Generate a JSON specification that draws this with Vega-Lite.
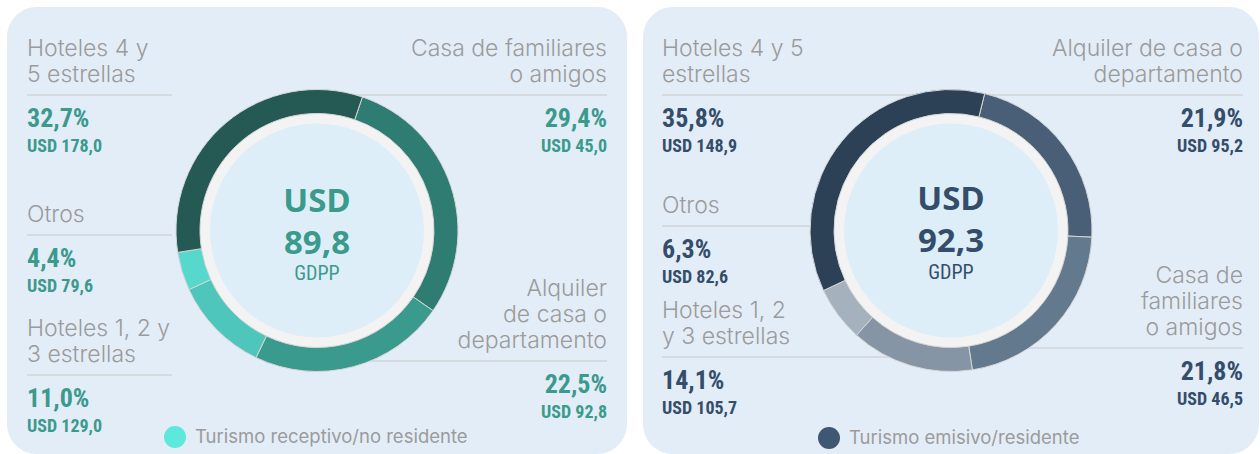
{
  "$schema": "https://vega.github.io/schema/vega-lite/v6.json",
  "background": "#ffffff",
  "padding": {"left": 7, "top": 7, "right": 0, "bottom": 0},
  "spacing": 16,
  "datasets": {
    "receptivo": [
      {"categoria": "Casa de familiares o amigos", "etiqueta": ["Casa de familiares", "o amigos"], "participacion": 0.294, "gasto": 45.0, "lado": "der", "orden": 1},
      {"categoria": "Alquiler de casa o departamento", "etiqueta": ["Alquiler", "de casa o", "departamento"], "participacion": 0.225, "gasto": 92.8, "lado": "der", "orden": 2},
      {"categoria": "Hoteles 1, 2 y 3 estrellas", "etiqueta": ["Hoteles 1, 2 y", "3 estrellas"], "participacion": 0.110, "gasto": 129.0, "lado": "izq", "orden": 3},
      {"categoria": "Otros", "etiqueta": ["Otros"], "participacion": 0.044, "gasto": 79.6, "lado": "izq", "orden": 4},
      {"categoria": "Hoteles 4 y 5 estrellas", "etiqueta": ["Hoteles 4 y", "5 estrellas"], "participacion": 0.327, "gasto": 178.0, "lado": "izq", "orden": 5}
    ],
    "emisivo": [
      {"categoria": "Alquiler de casa o departamento", "etiqueta": ["Alquiler de casa o", "departamento"], "participacion": 0.219, "gasto": 95.2, "lado": "der", "orden": 1},
      {"categoria": "Casa de familiares o amigos", "etiqueta": ["Casa de", "familiares", "o amigos"], "participacion": 0.218, "gasto": 46.5, "lado": "der", "orden": 2},
      {"categoria": "Hoteles 1, 2 y 3 estrellas", "etiqueta": ["Hoteles 1, 2", "y 3 estrellas"], "participacion": 0.141, "gasto": 105.7, "lado": "izq", "orden": 3},
      {"categoria": "Otros", "etiqueta": ["Otros"], "participacion": 0.063, "gasto": 82.6, "lado": "izq", "orden": 4},
      {"categoria": "Hoteles 4 y 5 estrellas", "etiqueta": ["Hoteles 4 y 5", "estrellas"], "participacion": 0.358, "gasto": 148.9, "lado": "izq", "orden": 5}
    ],
    "total_receptivo": [{"serie": "Turismo receptivo/no residente", "gasto_total": 89.8, "medida": "GDPP"}],
    "total_emisivo": [{"serie": "Turismo emisivo/residente", "gasto_total": 92.3, "medida": "GDPP"}]
  },
  "config": {
    "view": {"fill": "#e3edf8", "stroke": null, "cornerRadius": 30},
    "axis": {"disable": true},
    "locale": {"number": {"decimal": ",", "thousands": ".", "grouping": [3], "currency": ["USD ", ""]}}
  },
  "hconcat": [
    {
      "width": 620,
      "height": 447,
      "resolve": {"scale": {"y": "independent", "theta": "independent", "color": "independent"}, "legend": {"color": "independent"}},
      "layer": [
        {
          "data": {"name": "total_receptivo"},
          "mark": {"type": "point", "filled": true, "size": 10},
          "encoding": {
            "color": {"field": "serie", "type": "nominal", "scale": {"range": ["#5ee8dc"]},
              "legend": {"orient": "none", "legendX": 157, "legendY": 419, "title": null, "symbolType": "circle", "symbolSize": 484, "symbolStrokeWidth": 0, "symbolOpacity": 1, "labelFont": "Inter", "labelFontSize": 18.5, "labelColor": "#9b9b9b", "labelOffset": 9, "labelLimit": 400, "padding": 0}}
          }
        },
        {
          "data": {"name": "receptivo"},
          "transform": [{"filter": "datum.lado == 'izq'"}],
          "encoding": {
            "x": {"field": "lado", "type": "nominal", "axis": null, "scale": {"type": "point", "domain": ["izq", "codo", "centro", "codo_der", "der"], "range": [20, 600], "padding": 0}},
            "y": {"field": "categoria", "type": "nominal", "axis": null, "scale": {"type": "point", "domain": ["Hoteles 4 y 5 estrellas", "Otros", "Hoteles 1, 2 y 3 estrellas"], "range": [88, 368], "padding": 0}}
          },
          "layer": [
            {"mark": {"type": "rule", "color": "#c9c9c9", "strokeWidth": 1}, "encoding": {"x2": {"datum": "codo"}}},
            {"mark": {"type": "text", "align": "left", "baseline": "alphabetic", "dy": {"expr": "-13 - 26 * (length(datum.etiqueta) - 1)"}, "font": "Inter", "fontWeight": 300, "fontSize": 23, "lineHeight": 26, "color": "#9b9b9b"}, "encoding": {"text": {"field": "etiqueta"}}},
            {"mark": {"type": "text", "align": "left", "baseline": "alphabetic", "dy": 32, "font": "Liberation Sans Narrow, Roboto Condensed, DejaVu Sans Condensed, sans-serif", "fontWeight": "bold", "fontSize": 26, "color": "#3a9a8c"}, "encoding": {"text": {"field": "participacion", "type": "quantitative", "format": ".1%"}}},
            {"mark": {"type": "text", "align": "left", "baseline": "alphabetic", "dy": 57, "font": "Liberation Sans Narrow, Roboto Condensed, DejaVu Sans Condensed, sans-serif", "fontWeight": "bold", "fontSize": 18, "color": "#3a9a8c"}, "encoding": {"text": {"field": "gasto", "type": "quantitative", "format": "$.1f"}}}
          ]
        },
        {
          "data": {"name": "receptivo"},
          "transform": [{"filter": "datum.lado == 'der'"}],
          "encoding": {
            "x": {"field": "lado", "type": "nominal", "axis": null, "scale": {"type": "point", "domain": ["izq", "codo", "centro", "codo_der", "der"], "range": [20, 600], "padding": 0}},
            "y": {"field": "categoria", "type": "nominal", "axis": null, "scale": {"type": "point", "domain": ["Casa de familiares o amigos", "Alquiler de casa o departamento"], "range": [88, 354], "padding": 0}}
          },
          "layer": [
            {"mark": {"type": "rule", "color": "#c9c9c9", "strokeWidth": 1}, "encoding": {"x2": {"datum": "centro"}}},
            {"mark": {"type": "text", "align": "right", "baseline": "alphabetic", "dy": {"expr": "-13 - 26 * (length(datum.etiqueta) - 1)"}, "font": "Inter", "fontWeight": 300, "fontSize": 23, "lineHeight": 26, "color": "#9b9b9b"}, "encoding": {"text": {"field": "etiqueta"}}},
            {"mark": {"type": "text", "align": "right", "baseline": "alphabetic", "dy": 32, "font": "Liberation Sans Narrow, Roboto Condensed, DejaVu Sans Condensed, sans-serif", "fontWeight": "bold", "fontSize": 26, "color": "#3a9a8c"}, "encoding": {"text": {"field": "participacion", "type": "quantitative", "format": ".1%"}}},
            {"mark": {"type": "text", "align": "right", "baseline": "alphabetic", "dy": 57, "font": "Liberation Sans Narrow, Roboto Condensed, DejaVu Sans Condensed, sans-serif", "fontWeight": "bold", "fontSize": 18, "color": "#3a9a8c"}, "encoding": {"text": {"field": "gasto", "type": "quantitative", "format": "$.1f"}}}
          ]
        },
        {
          "data": {"name": "total_receptivo"},
          "mark": {"type": "arc", "outerRadius": 118, "innerRadius": 0, "color": "#f3f3f3"},
          "encoding": {"theta": {"field": "gasto_total", "type": "quantitative"}}
        },
        {
          "data": {"name": "total_receptivo"},
          "mark": {"type": "arc", "outerRadius": 107, "innerRadius": 0, "color": "#deeef9"},
          "encoding": {"theta": {"field": "gasto_total", "type": "quantitative"}}
        },
        {
          "data": {"name": "receptivo"},
          "mark": {"type": "arc", "outerRadius": 141, "innerRadius": 117, "stroke": "#d6d6d6", "strokeWidth": 1},
          "encoding": {
            "theta": {"field": "participacion", "type": "quantitative", "stack": true, "scale": {"range": [0.328, 6.611]}},
            "color": {"field": "categoria", "type": "nominal", "legend": null,
              "scale": {"domain": ["Casa de familiares o amigos", "Alquiler de casa o departamento", "Hoteles 1, 2 y 3 estrellas", "Otros", "Hoteles 4 y 5 estrellas"], "range": ["#2e7c72", "#3b9a8e", "#4ec6bb", "#57d8cc", "#245a53"]}},
            "order": {"field": "orden", "type": "quantitative"}
          }
        },
        {
          "data": {"name": "total_receptivo"},
          "mark": {"type": "text", "align": "center", "baseline": "alphabetic", "dy": -19, "font": "Open Sans", "fontWeight": "bold", "fontSize": 33, "color": "#3a9a8c"},
          "encoding": {"text": {"value": "USD"}}
        },
        {
          "data": {"name": "total_receptivo"},
          "mark": {"type": "text", "align": "center", "baseline": "alphabetic", "dy": 23, "font": "Open Sans", "fontWeight": "bold", "fontSize": 33, "color": "#3a9a8c"},
          "encoding": {"text": {"field": "gasto_total", "type": "quantitative", "format": ".1f"}}
        },
        {
          "data": {"name": "total_receptivo"},
          "mark": {"type": "text", "align": "center", "baseline": "alphabetic", "dy": 49, "font": "Liberation Sans Narrow, Roboto Condensed, DejaVu Sans Condensed, sans-serif", "fontSize": 20, "color": "#3a9a8c"},
          "encoding": {"text": {"field": "medida"}}
        }
      ]
    },
    {
      "width": 616,
      "height": 447,
      "resolve": {"scale": {"y": "independent", "theta": "independent", "color": "independent"}, "legend": {"color": "independent"}},
      "layer": [
        {
          "data": {"name": "total_emisivo"},
          "mark": {"type": "point", "filled": true, "size": 10},
          "encoding": {
            "color": {"field": "serie", "type": "nominal", "scale": {"range": ["#3e5874"]},
              "legend": {"orient": "none", "legendX": 175, "legendY": 420, "title": null, "symbolType": "circle", "symbolSize": 484, "symbolStrokeWidth": 0, "symbolOpacity": 1, "labelFont": "Inter", "labelFontSize": 18.5, "labelColor": "#9b9b9b", "labelOffset": 9, "labelLimit": 400, "padding": 0}}
          }
        },
        {
          "data": {"name": "emisivo"},
          "transform": [{"filter": "datum.lado == 'izq'"}],
          "encoding": {
            "x": {"field": "lado", "type": "nominal", "axis": null, "scale": {"type": "point", "domain": ["izq", "codo", "centro", "codo_der", "der"], "range": [19, 600], "padding": 0}},
            "y": {"field": "categoria", "type": "nominal", "axis": null, "scale": {"type": "point", "domain": ["Hoteles 4 y 5 estrellas", "Otros", "Hoteles 1, 2 y 3 estrellas"], "range": [88, 350], "padding": 0}}
          },
          "layer": [
            {"mark": {"type": "rule", "color": "#c9c9c9", "strokeWidth": 1}, "encoding": {"x2": {"datum": "centro"}}},
            {"mark": {"type": "text", "align": "left", "baseline": "alphabetic", "dy": {"expr": "-13 - 26 * (length(datum.etiqueta) - 1)"}, "font": "Inter", "fontWeight": 300, "fontSize": 23, "lineHeight": 26, "color": "#9b9b9b"}, "encoding": {"text": {"field": "etiqueta"}}},
            {"mark": {"type": "text", "align": "left", "baseline": "alphabetic", "dy": 32, "font": "Liberation Sans Narrow, Roboto Condensed, DejaVu Sans Condensed, sans-serif", "fontWeight": "bold", "fontSize": 26, "color": "#344d6a"}, "encoding": {"text": {"field": "participacion", "type": "quantitative", "format": ".1%"}}},
            {"mark": {"type": "text", "align": "left", "baseline": "alphabetic", "dy": 57, "font": "Liberation Sans Narrow, Roboto Condensed, DejaVu Sans Condensed, sans-serif", "fontWeight": "bold", "fontSize": 18, "color": "#344d6a"}, "encoding": {"text": {"field": "gasto", "type": "quantitative", "format": "$.1f"}}}
          ]
        },
        {
          "data": {"name": "emisivo"},
          "transform": [{"filter": "datum.lado == 'der'"}],
          "encoding": {
            "x": {"field": "lado", "type": "nominal", "axis": null, "scale": {"type": "point", "domain": ["izq", "codo", "centro", "codo_der", "der"], "range": [19, 600], "padding": 0}},
            "y": {"field": "categoria", "type": "nominal", "axis": null, "scale": {"type": "point", "domain": ["Alquiler de casa o departamento", "Casa de familiares o amigos"], "range": [88, 341], "padding": 0}}
          },
          "layer": [
            {"mark": {"type": "rule", "color": "#c9c9c9", "strokeWidth": 1}, "encoding": {"x2": {"datum": "centro"}}},
            {"mark": {"type": "text", "align": "right", "baseline": "alphabetic", "dy": {"expr": "-13 - 26 * (length(datum.etiqueta) - 1)"}, "font": "Inter", "fontWeight": 300, "fontSize": 23, "lineHeight": 26, "color": "#9b9b9b"}, "encoding": {"text": {"field": "etiqueta"}}},
            {"mark": {"type": "text", "align": "right", "baseline": "alphabetic", "dy": 32, "font": "Liberation Sans Narrow, Roboto Condensed, DejaVu Sans Condensed, sans-serif", "fontWeight": "bold", "fontSize": 26, "color": "#344d6a"}, "encoding": {"text": {"field": "participacion", "type": "quantitative", "format": ".1%"}}},
            {"mark": {"type": "text", "align": "right", "baseline": "alphabetic", "dy": 57, "font": "Liberation Sans Narrow, Roboto Condensed, DejaVu Sans Condensed, sans-serif", "fontWeight": "bold", "fontSize": 18, "color": "#344d6a"}, "encoding": {"text": {"field": "gasto", "type": "quantitative", "format": "$.1f"}}}
          ]
        },
        {
          "data": {"name": "total_emisivo"},
          "mark": {"type": "arc", "outerRadius": 118, "innerRadius": 0, "color": "#f3f3f3"},
          "encoding": {"theta": {"field": "gasto_total", "type": "quantitative"}}
        },
        {
          "data": {"name": "total_emisivo"},
          "mark": {"type": "arc", "outerRadius": 107, "innerRadius": 0, "color": "#deeef9"},
          "encoding": {"theta": {"field": "gasto_total", "type": "quantitative"}}
        },
        {
          "data": {"name": "emisivo"},
          "mark": {"type": "arc", "outerRadius": 141, "innerRadius": 117, "stroke": "#d6d6d6", "strokeWidth": 1},
          "encoding": {
            "theta": {"field": "participacion", "type": "quantitative", "stack": true, "scale": {"range": [0.241, 6.524]}},
            "color": {"field": "categoria", "type": "nominal", "legend": null,
              "scale": {"domain": ["Alquiler de casa o departamento", "Casa de familiares o amigos", "Hoteles 1, 2 y 3 estrellas", "Otros", "Hoteles 4 y 5 estrellas"], "range": ["#485f77", "#63798e", "#8595a6", "#a5b1bd", "#2c4155"]}},
            "order": {"field": "orden", "type": "quantitative"}
          }
        },
        {
          "data": {"name": "total_emisivo"},
          "mark": {"type": "text", "align": "center", "baseline": "alphabetic", "dy": -21, "font": "Open Sans", "fontWeight": "bold", "fontSize": 33, "color": "#344d6a"},
          "encoding": {"text": {"value": "USD"}}
        },
        {
          "data": {"name": "total_emisivo"},
          "mark": {"type": "text", "align": "center", "baseline": "alphabetic", "dy": 21, "font": "Open Sans", "fontWeight": "bold", "fontSize": 33, "color": "#344d6a"},
          "encoding": {"text": {"field": "gasto_total", "type": "quantitative", "format": ".1f"}}
        },
        {
          "data": {"name": "total_emisivo"},
          "mark": {"type": "text", "align": "center", "baseline": "alphabetic", "dy": 48, "font": "Liberation Sans Narrow, Roboto Condensed, DejaVu Sans Condensed, sans-serif", "fontSize": 20, "color": "#344d6a"},
          "encoding": {"text": {"field": "medida"}}
        }
      ]
    }
  ]
}
